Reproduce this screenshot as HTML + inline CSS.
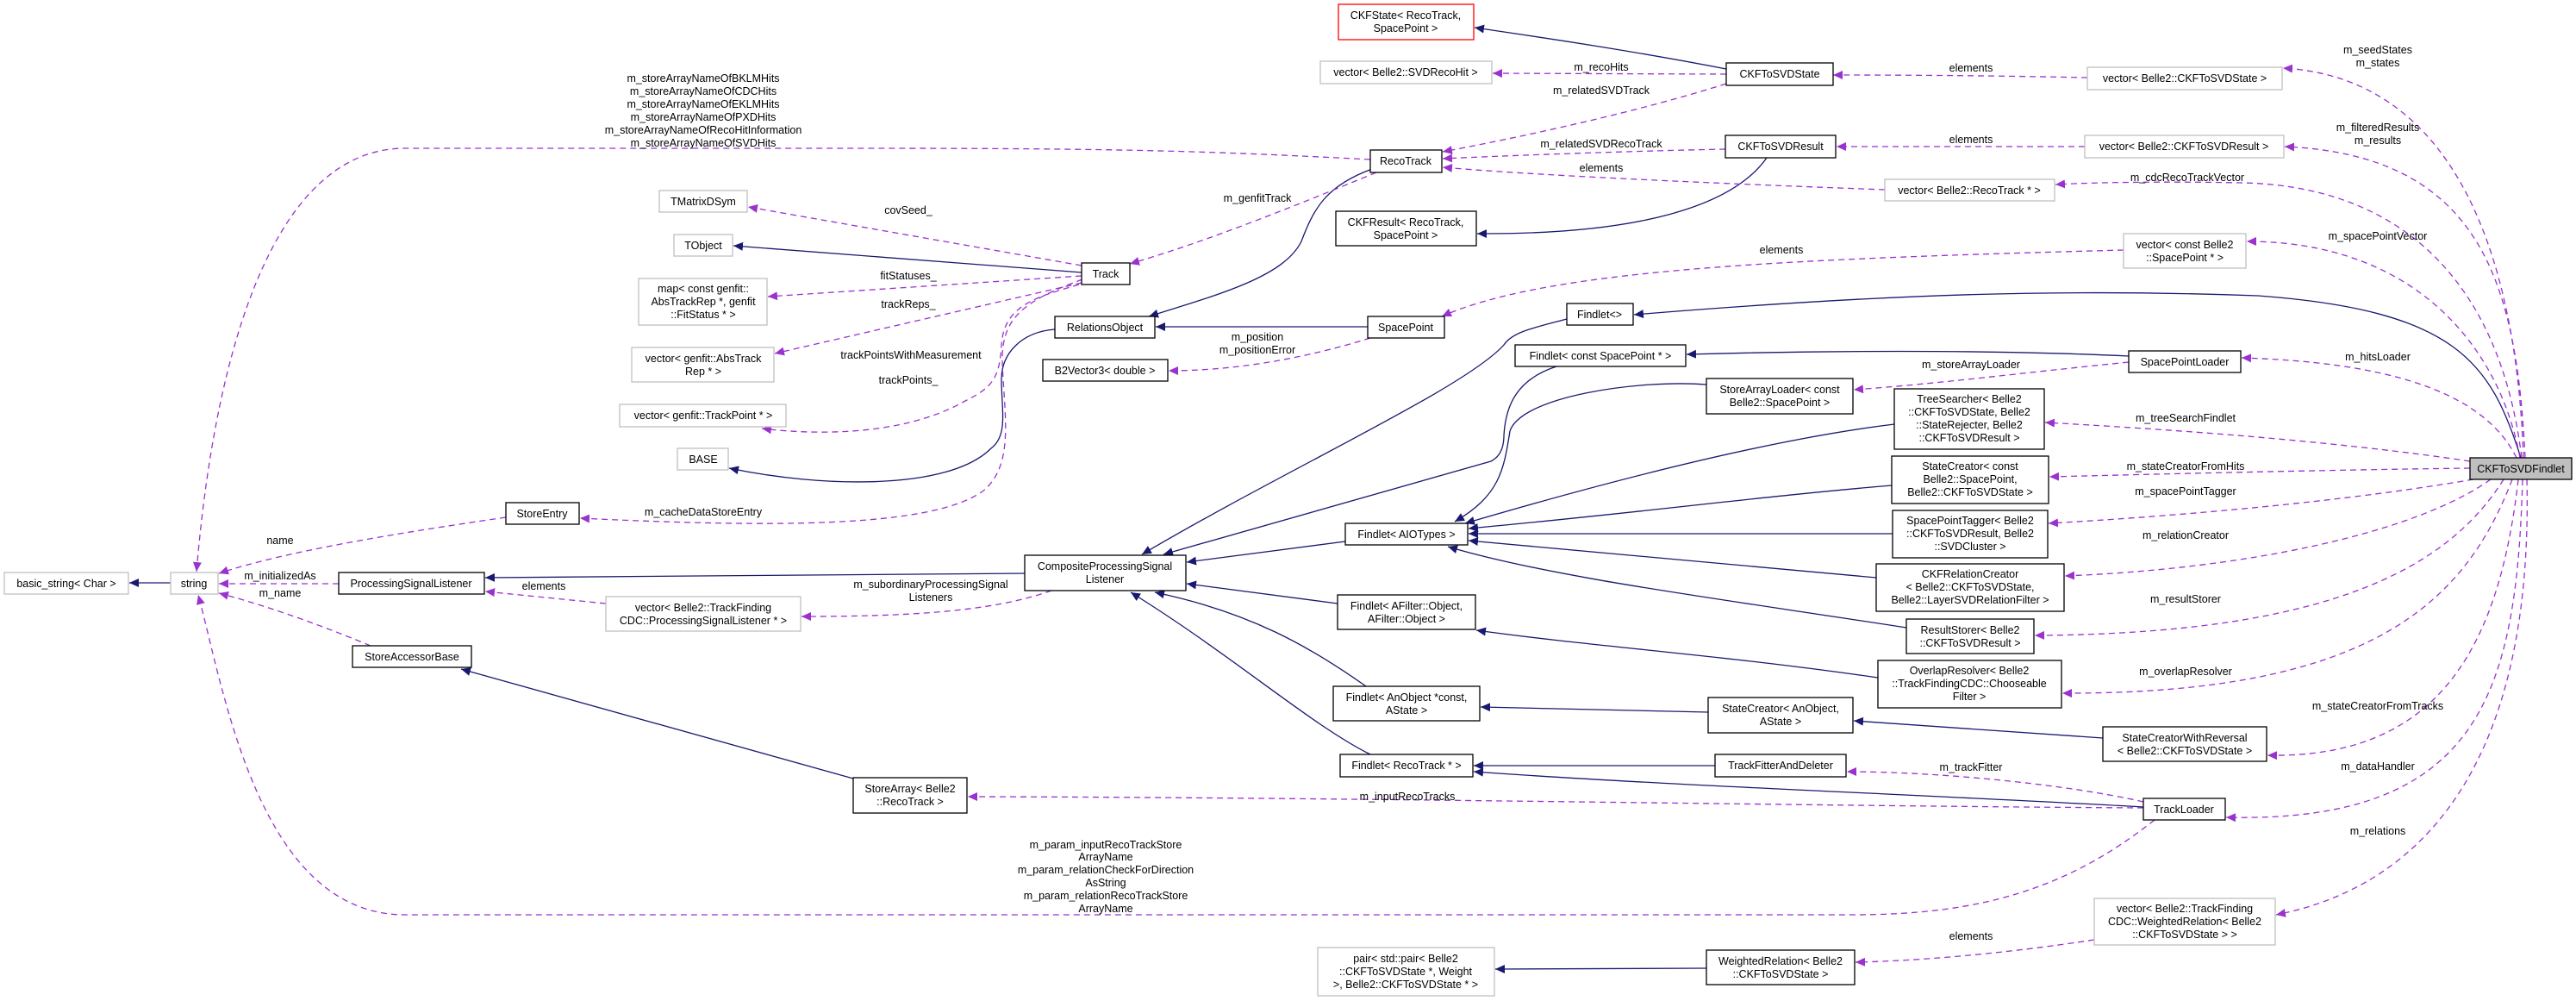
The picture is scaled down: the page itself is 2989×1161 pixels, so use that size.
<!DOCTYPE html>
<html><head><meta charset="utf-8"><style>
html,body{margin:0;padding:0;background:#fff;}
svg{display:block;}
text{font-family:"Liberation Sans",sans-serif;font-size:12.5px;fill:#000;text-anchor:middle;}
.b{fill:#fff;stroke:#000;stroke-width:1.3;}
.g{fill:#fff;stroke:#bfbfbf;stroke-width:1.3;}
.r{fill:#fff;stroke:#ff0000;stroke-width:1.3;}
.s{fill:none;stroke:#191970;stroke-width:1.3;}
.d{fill:none;stroke:#9a32cd;stroke-width:1.3;stroke-dasharray:7,5;}
</style></head><body>
<svg width="2989" height="1161" viewBox="0 0 2989 1161" xmlns="http://www.w3.org/2000/svg">
<defs>
<marker id="an" markerWidth="12" markerHeight="10" refX="11" refY="5" orient="auto" markerUnits="userSpaceOnUse"><path d="M0,0 L11,5 L0,10 z" fill="#191970"/></marker>
<marker id="ap" markerWidth="12" markerHeight="10" refX="11" refY="5" orient="auto" markerUnits="userSpaceOnUse"><path d="M0,0 L11,5 L0,10 z" fill="#9a32cd"/></marker>
</defs>

<!-- solid inheritance edges -->
<g class="s" marker-end="url(#an)">
<path d="M2003,80 C1900,60 1800,45 1711,32"/>
<path d="M2050,183 C2010,240 1900,272 1714,271"/>
<path d="M1592,196 C1540,215 1525,240 1510,280 C1490,320 1420,340 1333,367"/>
<path d="M1255,316 L851,285"/>
<path d="M1224,382 C1185,385 1162,410 1162,440 C1162,475 1170,505 1150,520 C1100,570 950,565 846,543"/>
<path d="M1587,379 L1341,379"/>
<path d="M1189,665 L563,670"/>
<path d="M990,903 L535,776"/>
<path d="M1818,370 C1780,380 1755,385 1745,400 C1700,450 1500,540 1325,643"/>
<path d="M1806,425 C1760,440 1747,470 1745,505 C1745,520 1740,530 1730,535 L1350,643"/>
<path d="M1561,628 L1377,652"/>
<path d="M1552,700 L1377,677"/>
<path d="M1585,796 C1520,750 1450,710 1340,687"/>
<path d="M1590,875 C1520,840 1430,760 1312,687"/>
<path d="M2925,531 C2890,420 2850,360 2620,343 C2400,335 2200,340 1896,365"/>
<path d="M2470,413 C2300,405 2100,407 1957,411"/>
<path d="M1980,446 C1900,440 1765,460 1752,500 C1745,545 1740,575 1688,605"/>
<path d="M2198,492 C2050,510 1860,560 1700,607"/>
<path d="M2195,563 C2050,575 1900,595 1704,613"/>
<path d="M2196,619 L1704,619"/>
<path d="M2177,670 L1704,627"/>
<path d="M2212,728 C2000,695 1800,670 1680,634"/>
<path d="M2179,786 C2000,760 1850,750 1713,731"/>
<path d="M2440,856 L2151,836"/>
<path d="M1982,826 L1718,820"/>
<path d="M1990,888 L1710,888"/>
<path d="M2487,936 C2200,920 1950,912 1710,895"/>
<path d="M1980,1123 L1735,1124"/>
<path d="M198,676 L150,676"/>
</g>

<!-- dashed usage edges -->
<g class="d" marker-end="url(#ap)">
<path d="M2928,531 C2920,300 2850,90 2649,79"/>
<path d="M2930,531 C2920,330 2880,180 2651,170"/>
<path d="M2926,531 C2900,320 2780,215 2600,212 C2500,210 2420,212 2385,214"/>
<path d="M2924,531 C2900,400 2800,280 2607,280"/>
<path d="M2920,531 C2880,450 2760,420 2601,415"/>
<path d="M2866,535 C2700,510 2500,497 2373,490"/>
<path d="M2866,543 C2700,545 2500,550 2378,553"/>
<path d="M2870,556 C2700,585 2500,600 2377,607"/>
<path d="M2890,556 C2800,620 2600,660 2396,668"/>
<path d="M2905,556 C2840,660 2700,735 2361,737"/>
<path d="M2915,556 C2860,700 2750,805 2393,804"/>
<path d="M2922,556 C2900,750 2830,880 2631,876"/>
<path d="M2927,556 C2920,800 2880,955 2583,948"/>
<path d="M2932,556 C2940,900 2800,1030 2641,1061"/>
<path d="M2422,90 C2330,88 2230,87 2127,87"/>
<path d="M2419,170 L2131,170"/>
<path d="M2003,86 L1732,85"/>
<path d="M2003,97 C1900,130 1760,160 1674,176"/>
<path d="M2002,173 C1900,175 1760,180 1674,184"/>
<path d="M2187,220 C2050,215 1800,205 1674,194"/>
<path d="M1597,200 C1500,240 1400,280 1311,306"/>
<path d="M1590,185 C1400,175 1300,172 1000,172 L470,172 C320,172 250,400 228,663"/>
<path d="M1255,308 L868,240"/>
<path d="M1255,320 L891,344"/>
<path d="M1255,328 L899,410"/>
<path d="M1252,330 C1200,345 1165,355 1162,400 C1160,440 1150,450 1120,465 C1050,505 950,505 884,497"/>
<path d="M1256,324 C1185,350 1162,370 1163,420 C1165,480 1178,540 1140,570 C1080,612 900,612 673,601"/>
<path d="M2464,290 C2100,300 1800,310 1673,367"/>
<path d="M1590,392 C1500,420 1420,430 1356,430"/>
<path d="M2470,420 C2350,432 2250,445 2151,452"/>
<path d="M587,600 C450,620 330,640 254,665"/>
<path d="M393,677 L254,677"/>
<path d="M430,749 C360,720 300,700 254,688"/>
<path d="M703,700 L563,686"/>
<path d="M1220,685 C1150,710 1050,715 930,715"/>
<path d="M2487,937 C2100,935 1600,925 1123,924"/>
<path d="M2487,930 C2400,910 2250,895 2143,895"/>
<path d="M2500,951 C2400,1030 2300,1061 2150,1061 L470,1061 C300,1061 260,800 230,690"/>
<path d="M2430,1090 C2300,1110 2200,1115 2153,1116"/>
</g>

<!-- nodes -->
<rect class="r" x="1553" y="5" width="157" height="41"/><text x="1631" y="22">CKFState&lt; RecoTrack,</text><text x="1631" y="37">SpacePoint &gt;</text>
<rect class="g" x="1532" y="71" width="199" height="26"/><text x="1631" y="88">vector&lt; Belle2::SVDRecoHit &gt;</text>
<rect class="b" x="1590" y="174" width="83" height="26"/><text x="1631" y="191">RecoTrack</text>
<rect class="b" x="1550" y="245" width="163" height="40"/><text x="1631" y="262">CKFResult&lt; RecoTrack,</text><text x="1631" y="277">SpacePoint &gt;</text>
<rect class="b" x="1255" y="305" width="56" height="25"/><text x="1283" y="322">Track</text>
<rect class="b" x="1224" y="367" width="116" height="25"/><text x="1282" y="384">RelationsObject</text>
<rect class="b" x="1587" y="367" width="89" height="25"/><text x="1631" y="384">SpacePoint</text>
<rect class="b" x="1210" y="417" width="145" height="25"/><text x="1282" y="434">B2Vector3&lt; double &gt;</text>
<rect class="b" x="1818" y="352" width="77" height="25"/><text x="1856" y="369">Findlet&lt;&gt;</text>
<rect class="b" x="1758" y="400" width="198" height="25"/><text x="1857" y="417">Findlet&lt; const SpacePoint * &gt;</text>
<rect class="b" x="2003" y="73" width="124" height="26"/><text x="2065" y="90">CKFToSVDState</text>
<rect class="g" x="2422" y="78" width="226" height="26"/><text x="2535" y="95">vector&lt; Belle2::CKFToSVDState &gt;</text>
<rect class="b" x="2002" y="157" width="128" height="26"/><text x="2066" y="174">CKFToSVDResult</text>
<rect class="g" x="2419" y="157" width="231" height="26"/><text x="2534" y="174">vector&lt; Belle2::CKFToSVDResult &gt;</text>
<rect class="g" x="2187" y="208" width="197" height="25"/><text x="2285" y="225">vector&lt; Belle2::RecoTrack * &gt;</text>
<rect class="g" x="2464" y="271" width="142" height="40"/><text x="2535" y="288">vector&lt; const Belle2</text><text x="2535" y="303">::SpacePoint * &gt;</text>
<rect class="b" x="2470" y="407" width="130" height="25"/><text x="2535" y="424">SpacePointLoader</text>
<rect class="b" x="1980" y="439" width="170" height="41"/><text x="2065" y="456">StoreArrayLoader&lt; const</text><text x="2065" y="471">Belle2::SpacePoint &gt;</text>
<rect class="b" x="2198" y="451" width="174" height="70"/><text x="2285" y="467">TreeSearcher&lt; Belle2</text><text x="2285" y="482">::CKFToSVDState, Belle2</text><text x="2285" y="497">::StateRejecter, Belle2</text><text x="2285" y="512">::CKFToSVDResult &gt;</text>
<rect class="b" x="2195" y="529" width="182" height="55"/><text x="2286" y="545">StateCreator&lt; const</text><text x="2286" y="560">Belle2::SpacePoint,</text><text x="2286" y="575">Belle2::CKFToSVDState &gt;</text>
<rect x="2866" y="531" width="118" height="25" fill="#bfbfbf" stroke="#000" stroke-width="1.3"/><text x="2925" y="548">CKFToSVDFindlet</text>
<rect class="b" x="2196" y="592" width="180" height="55"/><text x="2286" y="608">SpacePointTagger&lt; Belle2</text><text x="2286" y="623">::CKFToSVDResult, Belle2</text><text x="2286" y="638">::SVDCluster &gt;</text>
<rect class="b" x="2177" y="654" width="218" height="55"/><text x="2286" y="670">CKFRelationCreator</text><text x="2286" y="685">&lt; Belle2::CKFToSVDState,</text><text x="2286" y="700">Belle2::LayerSVDRelationFilter &gt;</text>
<rect class="b" x="2212" y="718" width="148" height="40"/><text x="2286" y="735">ResultStorer&lt; Belle2</text><text x="2286" y="750">::CKFToSVDResult &gt;</text>
<rect class="b" x="2179" y="766" width="213" height="55"/><text x="2285" y="782">OverlapResolver&lt; Belle2</text><text x="2285" y="797">::TrackFindingCDC::Chooseable</text><text x="2285" y="812">Filter &gt;</text>
<rect class="b" x="1982" y="809" width="168" height="41"/><text x="2066" y="826">StateCreator&lt; AnObject,</text><text x="2066" y="841">AState &gt;</text>
<rect class="b" x="2440" y="843" width="190" height="40"/><text x="2535" y="860">StateCreatorWithReversal</text><text x="2535" y="875">&lt; Belle2::CKFToSVDState &gt;</text>
<rect class="b" x="1990" y="875" width="152" height="26"/><text x="2066" y="892">TrackFitterAndDeleter</text>
<rect class="b" x="2487" y="926" width="95" height="25"/><text x="2534" y="943">TrackLoader</text>
<rect class="g" x="2430" y="1042" width="210" height="54"/><text x="2535" y="1058">vector&lt; Belle2::TrackFinding</text><text x="2535" y="1073">CDC::WeightedRelation&lt; Belle2</text><text x="2535" y="1088">::CKFToSVDState &gt; &gt;</text>
<rect class="b" x="1980" y="1102" width="172" height="40"/><text x="2066" y="1119">WeightedRelation&lt; Belle2</text><text x="2066" y="1134">::CKFToSVDState &gt;</text>
<rect class="g" x="1529" y="1099" width="205" height="56"/><text x="1631" y="1116">pair&lt; std::pair&lt; Belle2</text><text x="1631" y="1131">::CKFToSVDState *, Weight</text><text x="1631" y="1146">&gt;, Belle2::CKFToSVDState * &gt;</text>
<rect class="b" x="1189" y="644" width="187" height="41"/><text x="1282" y="661">CompositeProcessingSignal</text><text x="1282" y="676">Listener</text>
<rect class="b" x="1561" y="607" width="142" height="25"/><text x="1632" y="624">Findlet&lt; AIOTypes &gt;</text>
<rect class="b" x="1552" y="690" width="160" height="40"/><text x="1632" y="707">Findlet&lt; AFilter::Object,</text><text x="1632" y="722">AFilter::Object &gt;</text>
<rect class="b" x="1547" y="796" width="170" height="40"/><text x="1632" y="813">Findlet&lt; AnObject *const,</text><text x="1632" y="828">AState &gt;</text>
<rect class="b" x="1555" y="875" width="154" height="26"/><text x="1632" y="892">Findlet&lt; RecoTrack * &gt;</text>
<rect class="b" x="990" y="902" width="132" height="41"/><text x="1056" y="919">StoreArray&lt; Belle2</text><text x="1056" y="934">::RecoTrack &gt;</text>
<rect class="b" x="587" y="583" width="85" height="25"/><text x="629" y="600">StoreEntry</text>
<rect class="g" x="5" y="664" width="144" height="25"/><text x="77" y="681">basic_string&lt; Char &gt;</text>
<rect class="g" x="198" y="664" width="55" height="25"/><text x="225" y="681">string</text>
<rect class="b" x="393" y="664" width="169" height="25"/><text x="477" y="681">ProcessingSignalListener</text>
<rect class="g" x="703" y="692" width="226" height="40"/><text x="816" y="709">vector&lt; Belle2::TrackFinding</text><text x="816" y="724">CDC::ProcessingSignalListener * &gt;</text>
<rect class="b" x="409" y="749" width="138" height="25"/><text x="478" y="766">StoreAccessorBase</text>
<rect class="g" x="765" y="221" width="102" height="25"/><text x="816" y="238">TMatrixDSym</text>
<rect class="g" x="782" y="272" width="68" height="25"/><text x="816" y="289">TObject</text>
<rect class="g" x="741" y="323" width="149" height="54"/><text x="816" y="339">map&lt; const genfit::</text><text x="816" y="354">AbsTrackRep *, genfit</text><text x="816" y="369">::FitStatus * &gt;</text>
<rect class="g" x="733" y="403" width="165" height="40"/><text x="816" y="420">vector&lt; genfit::AbsTrack</text><text x="816" y="435">Rep * &gt;</text>
<rect class="g" x="719" y="469" width="193" height="26"/><text x="816" y="486">vector&lt; genfit::TrackPoint * &gt;</text>
<rect class="g" x="786" y="520" width="59" height="25"/><text x="816" y="537">BASE</text>

<!-- edge labels -->
<text x="816" y="95">m_storeArrayNameOfBKLMHits</text>
<text x="816" y="110">m_storeArrayNameOfCDCHits</text>
<text x="816" y="125">m_storeArrayNameOfEKLMHits</text>
<text x="816" y="140">m_storeArrayNameOfPXDHits</text>
<text x="816" y="155">m_storeArrayNameOfRecoHitInformation</text>
<text x="816" y="170">m_storeArrayNameOfSVDHits</text>
<text x="1858" y="82">m_recoHits</text>
<text x="1858" y="109">m_relatedSVDTrack</text>
<text x="1858" y="171">m_relatedSVDRecoTrack</text>
<text x="1858" y="199">elements</text>
<text x="1459" y="234">m_genfitTrack</text>
<text x="1054" y="248">covSeed_</text>
<text x="1054" y="324">fitStatuses_</text>
<text x="1054" y="357">trackReps_</text>
<text x="1057" y="416">trackPointsWithMeasurement</text>
<text x="1054" y="445">trackPoints_</text>
<text x="1459" y="395">m_position</text>
<text x="1459" y="410">m_positionError</text>
<text x="2759" y="62">m_seedStates</text>
<text x="2759" y="77">m_states</text>
<text x="2287" y="83">elements</text>
<text x="2287" y="166">elements</text>
<text x="2759" y="152">m_filteredResults</text>
<text x="2759" y="167">m_results</text>
<text x="2538" y="210">m_cdcRecoTrackVector</text>
<text x="2759" y="278">m_spacePointVector</text>
<text x="2067" y="294">elements</text>
<text x="2759" y="418">m_hitsLoader</text>
<text x="2287" y="427">m_storeArrayLoader</text>
<text x="2536" y="489">m_treeSearchFindlet</text>
<text x="2536" y="545">m_stateCreatorFromHits</text>
<text x="2536" y="574">m_spacePointTagger</text>
<text x="2536" y="625">m_relationCreator</text>
<text x="2536" y="699">m_resultStorer</text>
<text x="2536" y="783">m_overlapResolver</text>
<text x="2759" y="823">m_stateCreatorFromTracks</text>
<text x="2287" y="894">m_trackFitter</text>
<text x="2759" y="893">m_dataHandler</text>
<text x="2759" y="968">m_relations</text>
<text x="2287" y="1090">elements</text>
<text x="816" y="598">m_cacheDataStoreEntry</text>
<text x="325" y="631">name</text>
<text x="325" y="672">m_initializedAs</text>
<text x="325" y="692">m_name</text>
<text x="631" y="684">elements</text>
<text x="1080" y="682">m_subordinaryProcessingSignal</text>
<text x="1080" y="697">Listeners</text>
<text x="1633" y="928">m_inputRecoTracks</text>
<text x="1283" y="984">m_param_inputRecoTrackStore</text>
<text x="1283" y="998">ArrayName</text>
<text x="1283" y="1013">m_param_relationCheckForDirection</text>
<text x="1283" y="1028">AsString</text>
<text x="1283" y="1043">m_param_relationRecoTrackStore</text>
<text x="1283" y="1058">ArrayName</text>
</svg>
</body></html>
